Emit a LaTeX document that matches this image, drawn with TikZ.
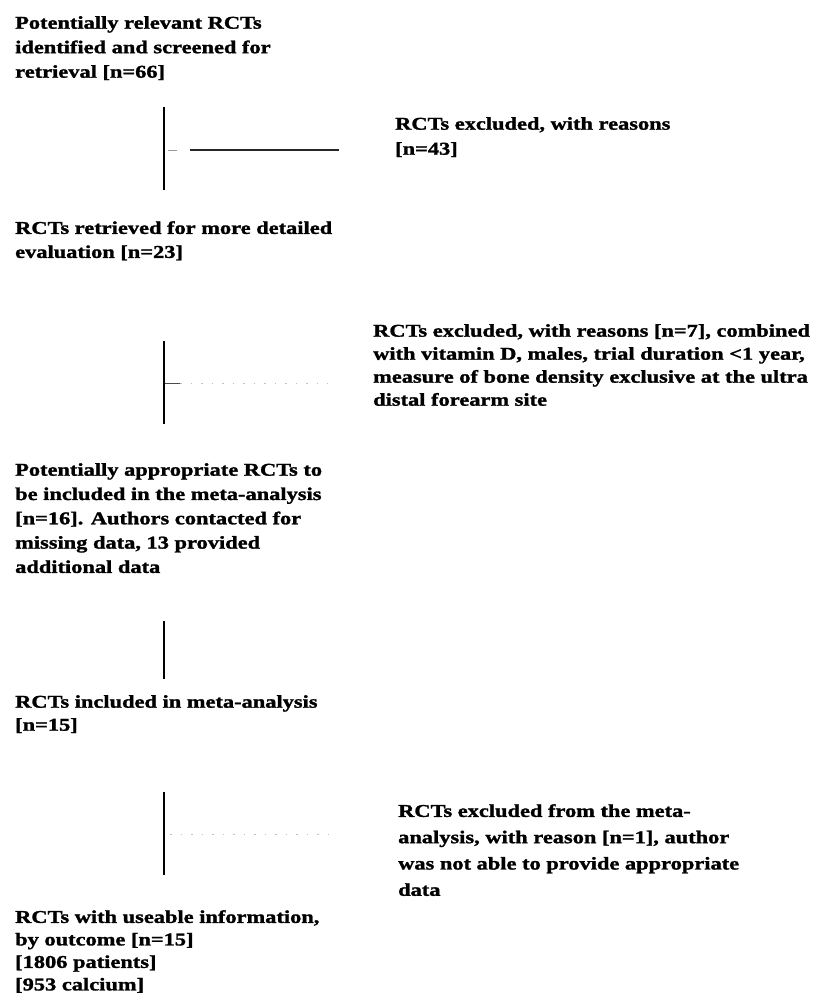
\documentclass[tikz,border=0pt]{standalone}
\usepackage{fontspec}
\newfontfamily\flowfont[FakeStretch=1.245,FakeBold=1.5]{Liberation Serif}
\tikzset{
  txt/.style={anchor=north west, inner sep=0pt, align=left, font=\flowfont\bfseries\fontsize{18}{#1}\selectfont},
  txt/.default=24,
  vline/.style={line width=1.6pt, black},
  hline/.style={line width=1.1pt, black!85},
  faint/.style={line width=0.8pt, black!25, dash pattern=on 1.5pt off 9pt}
}
\begin{document}
\begin{tikzpicture}[x=1pt,y=-1pt]
\useasboundingbox[fill=white] (0,0) rectangle (836,998);

\node[txt=24.5] (t1) at (15,16) {Potentially relevant RCTs\\identified and screened for\\retrieval {[}n=66{]}};
\node[txt=25] (x1) at (395,117) {RCTs excluded, with reasons\\{[}n=43{]}};
\node[txt=24] (t2) at (15,221) {RCTs retrieved for more detailed\\evaluation {[}n=23{]}};
\node[txt=23] (x2) at (373,324) {RCTs excluded, with reasons {[}n=7{]}, combined\\with vitamin D, males, trial duration <1 year,\\measure of bone density exclusive at the ultra\\distal forearm site};
\node[txt=24.3] (t3) at (15,463) {Potentially appropriate RCTs to\\be included in the meta-analysis\\{[}n=16{]}. Authors contacted for\\missing data, 13 provided\\additional data};
\node[txt=23] (t4) at (15,695) {RCTs included in meta-analysis\\{[}n=15{]}};
\node[txt=26.3] (x3) at (398,804) {RCTs excluded from the meta-\\analysis, with reason {[}n=1{]}, author\\was not able to provide appropriate\\data};
\node[txt=22.5] (t5) at (15,910) {RCTs with useable information,\\by outcome {[}n=15{]}\\{[}1806 patients{]}\\{[}953 calcium{]}};

% stage 1
\coordinate (v1a) at (164,107);
\coordinate (v1b) at (164,190);
\coordinate (h1a) at (190,150);
\coordinate (h1b) at (339,150);
\coordinate (d1a) at (168,150);
\coordinate (d1b) at (177,150);
\draw[vline] (v1a) -- (v1b);
\draw[hline] (h1a) -- (h1b);
\draw[line width=0.6pt, black!40] (d1a) -- (d1b);

% stage 2
\coordinate (v2a) at (164,341);
\coordinate (v2b) at (164,424);
\coordinate (h2a) at (165,383);
\coordinate (h2b) at (180,383);
\coordinate (h2c) at (328,383);
\draw[vline] (v2a) -- (v2b);
\draw[line width=1pt, black!70] (h2a) -- (h2b);
\draw[faint] (h2b) -- (h2c);

% stage 3
\coordinate (v3a) at (164,621);
\coordinate (v3b) at (164,679);
\draw[line width=1.3pt] (v3a) -- (v3b);

% stage 4
\coordinate (v4a) at (164,792);
\coordinate (v4b) at (164,875);
\coordinate (h4a) at (170,834);
\coordinate (h4b) at (335,834);
\draw[vline] (v4a) -- (v4b);
\draw[faint] (h4a) -- (h4b);
\end{tikzpicture}
\end{document}
